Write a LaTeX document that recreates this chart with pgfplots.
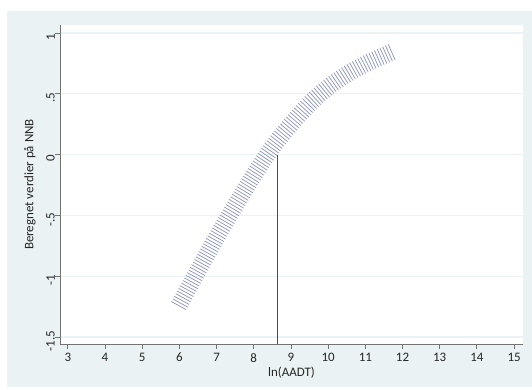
\documentclass[border=0pt]{standalone}
\usepackage{fontspec}
\setmainfont{Carlito}
\usepackage{pgfplots}
\pgfplotsset{compat=1.18}
\definecolor{bgc}{RGB}{234,242,243}
\definecolor{bandc}{RGB}{145,152,190}
\begin{document}
\begin{tikzpicture}[x=1bp,y=1bp]
\path[use as bounding box] (0,0) rectangle (532,389);
\fill[white] (0,0) rectangle (532,389);
\fill[bgc] (7,2) rectangle (532,378);
\begin{axis}[
  at={(60bp,45bp)}, anchor=south west,
  width=463bp, height=319bp, scale only axis,
  xmin=2.79, xmax=15.24, ymin=-1.558, ymax=1.066,
  axis background/.style={fill=white},
  axis x line*=bottom, axis y line*=left,
  axis line style={black!55, line width=0.9bp, -},
  tick style={black!55, line width=0.8bp},
  tick align=outside, major tick length=5bp,
  xtick={3,4,...,15},
  ytick={-1.5,-1,-0.5,0,0.5,1},
  yticklabels={-1.5,-1,-.5,0,.5,1},
  /pgf/number format/assume math mode=true,
  ymajorgrids, grid style={bgc, line width=1.1bp},
  tick label style={font=\fontsize{13}{15}\selectfont, text=black!85},
  yticklabel style={rotate=90, anchor=south, inner sep=0pt, xshift=-4bp},
  xticklabel style={inner sep=0pt, yshift=-4bp},
  label style={font=\fontsize{13}{15}\selectfont, text=black!85},
  xlabel={ln(AADT)},
  xlabel style={at={(axis description cs:0.5,-0.0893)}, anchor=center, inner sep=0pt},
  ylabel={Beregnet verdier på NNB},
  ylabel style={at={(axis description cs:-0.0648,0.5)}, rotate=0, anchor=center, inner sep=0pt},
]
\addplot[bandc, line width=17bp, dash pattern=on 0.75bp off 2.25bp, smooth, tension=0.5] coordinates {
(5.98,-1.245) (6.5,-0.955) (7.0,-0.68) (7.5,-0.42) (8.0,-0.17) (8.5,0.06)
(9.0,0.25) (9.5,0.42) (10.0,0.555) (10.5,0.66) (11.0,0.745) (11.5,0.815) (11.72,0.845)
};
\addplot[black!70, line width=0.9bp] coordinates {(8.63,-1.558) (8.63,0)};
\end{axis}
\end{tikzpicture}
\end{document}
